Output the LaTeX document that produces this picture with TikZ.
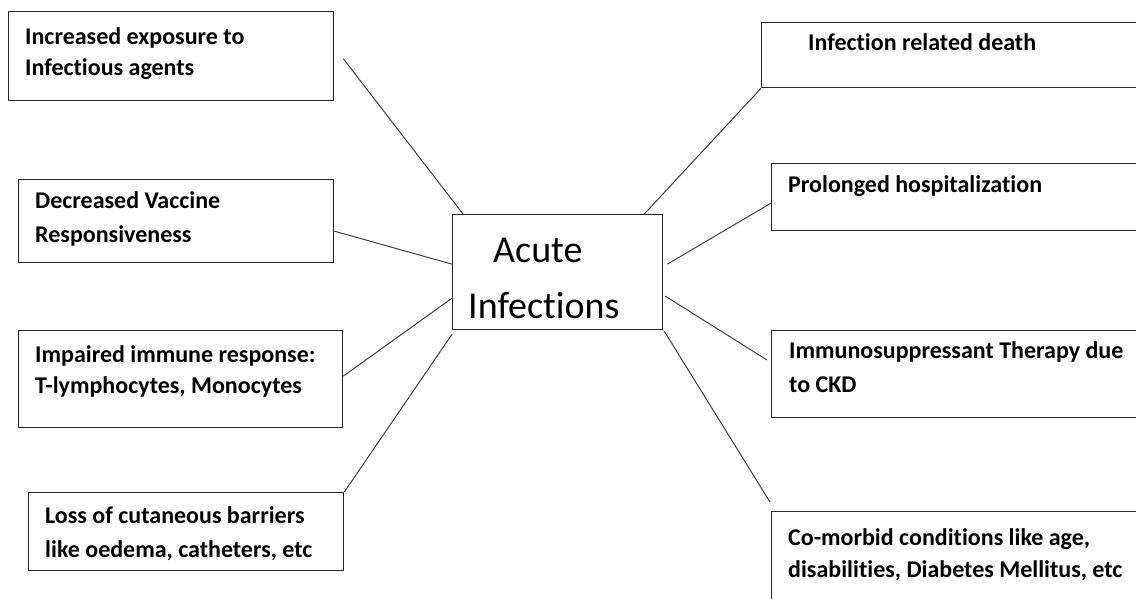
\documentclass[tikz,border=0pt]{standalone}
\usepackage{fontspec}
\setmainfont{Carlito}[Ligatures=NoCommon]
\usetikzlibrary{calc}
\begin{document}
\begin{tikzpicture}[x=1pt,y=-1pt,
  box/.style={draw=black!85, line width=1.3pt, inner sep=0pt, anchor=north west},
  lbl/.style={anchor=base west, inner sep=0pt, font=\fontsize{24}{31}\selectfont\bfseries, text=black},
  conn/.style={draw=black!75, line width=1pt}]
\useasboundingbox (0,0) rectangle (1136,598);
% left boxes
\node[box, minimum width=325, minimum height=89] (b1) at (8,11) {};
\node[box, minimum width=315, minimum height=83] (b2) at (18,179) {};
\node[box, minimum width=324, minimum height=97] (b3) at (18,330) {};
\node[box, minimum width=315, minimum height=78] (b4) at (28,492) {};
% right boxes
\node[box, minimum width=380, minimum height=65] (r1) at (761,22) {};
\node[box, minimum width=370, minimum height=67] (r2) at (771,163) {};
\node[box, minimum width=370, minimum height=87] (r3) at (771,330) {};
\node[box, minimum width=370, minimum height=95] (r4) at (771,511) {};
% centre
\node[box, minimum width=210, minimum height=115] (c) at (452,214) {};
\node[anchor=base west, inner sep=0pt, font=\fontsize{38}{40}\selectfont] (ct1) at (493,262) {Acute};
\node[anchor=base west, inner sep=0pt, font=\fontsize{38}{40}\selectfont] (ct2) at (468,318) {Infections};
% labels
\node[lbl] (t1a) at (25,44) {Increased exposure to};
\node[lbl] (t1b) at (25,75) {Infectious agents};
\node[lbl] (t2a) at (35,208) {Decreased Vaccine};
\node[lbl] (t2b) at (35,242) {Responsiveness};
\node[lbl] (t3a) at (35,362) {Impaired immune response:};
\node[lbl] (t3b) at (35,393) {T-lymphocytes, Monocytes};
\node[lbl] (t4a) at (45,523) {Loss of cutaneous barriers};
\node[lbl] (t4b) at (45,557) {like oedema, catheters, etc};
\node[lbl] (s1) at (808,50) {Infection related death};
\node[lbl] (s2) at (788,192) {Prolonged hospitalization};
\node[lbl] (s3a) at (789,358) {Immunosuppressant Therapy due};
\node[lbl] (s3b) at (789,392) {to CKD};
\node[lbl] (s4a) at (788,545) {Co-morbid conditions like age,};
\node[lbl] (s4b) at (788,577) {disabilities, Diabetes Mellitus, etc};
% connector end points
\coordinate (p1) at ($(b1.east)+(9,2.5)$);
\coordinate (q1) at ($(c.north west)+(11,0)$);
\coordinate (p2) at ($(b2.east)+(0,10)$);
\coordinate (q2) at ($(c.west)+(0,-8)$);
\coordinate (p3) at ($(b3.east)+(0,-3)$);
\coordinate (q3) at ($(c.west)+(0,26)$);
\coordinate (p4) at (b4.north east);
\coordinate (q4) at ($(c.south west)+(0,4)$);
\coordinate (p5) at (r1.south west);
\coordinate (q5) at ($(c.north east)+(-19,0)$);
\coordinate (p6) at ($(r2.west)+(0,6)$);
\coordinate (q6) at ($(c.east)+(4,-8)$);
\coordinate (p7) at ($(r3.north west)+(-4,30)$);
\coordinate (q7) at ($(c.east)+(2,24)$);
\coordinate (p8) at ($(r4.north west)+(-1,-9)$);
\coordinate (q8) at ($(c.south east)+(1,1)$);
\draw[conn] (p1) -- (q1);
\draw[conn] (p2) -- (q2);
\draw[conn] (p3) -- (q3);
\draw[conn] (p4) -- (q4);
\draw[conn] (p5) -- (q5);
\draw[conn] (p6) -- (q6);
\draw[conn] (p7) -- (q7);
\draw[conn] (p8) -- (q8);
\end{tikzpicture}
\end{document}
